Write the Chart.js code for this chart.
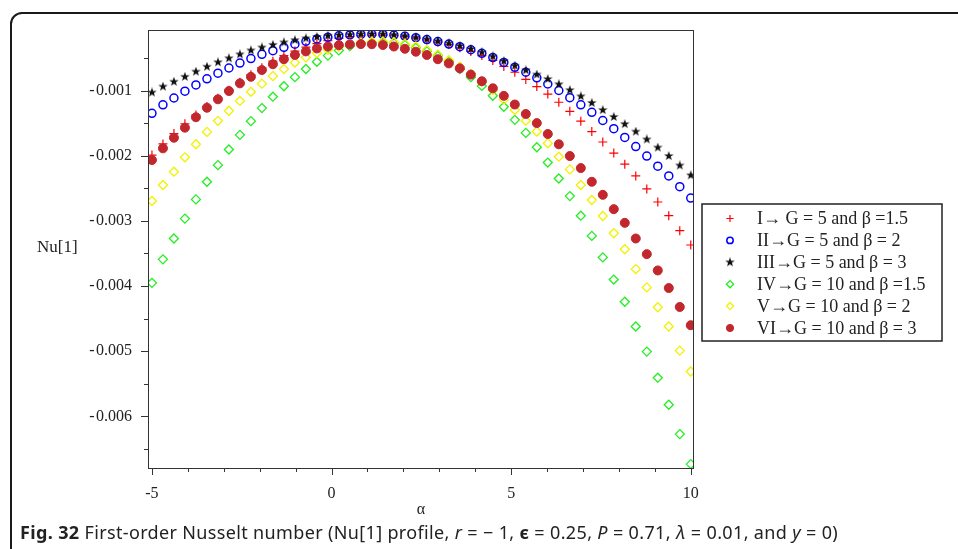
<!DOCTYPE html>
<html>
<head>
<meta charset="utf-8">
<script src="https://cdn.jsdelivr.net/npm/chart.js@4.4.1/dist/chart.umd.min.js"></script>
<style>
    html, body { margin: 0; padding: 0; background: #fff; overflow: hidden; }
    #wrap { position: relative; width: 958px; height: 549px; overflow: hidden; }
    #frame { position: absolute; left: 10px; top: 12px; width: 1000px; height: 600px;
             border: 2px solid #1a1a1a; border-radius: 12px; box-sizing: border-box; }
    #chartjs { position: absolute; left: 0; top: 0; }
    #caption { position: absolute; left: 20px; top: 520px; font-family: "Noto Sans"; font-size: 18px;
               letter-spacing: 0.35px; color: #222; white-space: nowrap; }
</style>
</head>
<body>
<div id="wrap">
    <div id="frame"></div>
    <canvas id="chartjs" width="958" height="549"></canvas>
    <div id="caption"><b>Fig. 32</b> First-order Nusselt number (Nu[1] profile, <i>r</i> = − 1, <b>ϵ</b> = 0.25, <i>P</i> = 0.71, <i>λ</i> = 0.01, and <i>y</i> = 0)</div>
</div>
<script>
// sample points of alpha (50 points from -5 to 10)
const alpha = [-5, -4.694, -4.388, -4.082, -3.776, -3.469, -3.163, -2.857, -2.551, -2.245,
    -1.939, -1.633, -1.327, -1.02, -0.714, -0.408, -0.102, 0.204, 0.51, 0.816,
    1.122, 1.429, 1.735, 2.041, 2.347, 2.653, 2.959, 3.265, 3.571, 3.878,
    4.184, 4.49, 4.796, 5.102, 5.408, 5.714, 6.02, 6.327, 6.633, 6.939,
    7.245, 7.551, 7.857, 8.163, 8.469, 8.776, 9.082, 9.388, 9.694, 10]

// Nu[1] for each case
const nuI = [-0.00199, -0.00182, -0.00166, -0.00151, -0.001375, -0.001245, -0.00112, -0.000995, -0.000875, -0.00076,
    -0.00065, -0.00055, -0.000465, -0.000395, -0.000335, -0.000282, -0.000237, -0.0002, -0.000175, -0.00016,
    -0.000152, -0.000152, -0.00016, -0.000175, -0.000197, -0.000225, -0.000258, -0.000295, -0.000345, -0.0004,
    -0.000465, -0.00054, -0.00063, -0.00072, -0.00083, -0.00094, -0.001055, -0.00118, -0.00132, -0.00147,
    -0.00163, -0.00179, -0.00196, -0.00213, -0.00231, -0.00251, -0.00271, -0.00292, -0.00315, -0.00337]
const nuII = [-0.00135, -0.00122, -0.001115, -0.00101, -0.000915, -0.00082, -0.000735, -0.000655, -0.00058, -0.00051,
    -0.000445, -0.00039, -0.000337, -0.00029, -0.000245, -0.00021, -0.000184, -0.000162, -0.000148, -0.00014,
    -0.000137, -0.00014, -0.00015, -0.000167, -0.00019, -0.000218, -0.00025, -0.000287, -0.000328, -0.000375,
    -0.00043, -0.000495, -0.00057, -0.000645, -0.00072, -0.000805, -0.0009, -0.001, -0.00111, -0.00122,
    -0.001335, -0.00146, -0.001585, -0.00172, -0.00186, -0.002005, -0.00216, -0.00231, -0.002475, -0.00265]
const nuIII = [-0.00103, -0.00094, -0.000865, -0.00079, -0.00071, -0.000635, -0.000567, -0.000506, -0.000445, -0.000385,
    -0.00034, -0.0003, -0.000262, -0.000228, -0.0002, -0.000178, -0.00016, -0.00015, -0.000142, -0.000136,
    -0.000133, -0.000136, -0.000145, -0.000162, -0.000185, -0.000212, -0.000242, -0.000276, -0.000315, -0.000362,
    -0.000414, -0.000478, -0.00055, -0.00062, -0.00069, -0.000755, -0.000825, -0.000905, -0.000995, -0.00109,
    -0.00119, -0.0013, -0.001405, -0.001515, -0.00163, -0.00175, -0.001875, -0.002005, -0.00215, -0.0023]
const nuIV = [-0.00395, -0.00359, -0.00327, -0.002965, -0.00267, -0.0024, -0.002145, -0.001905, -0.00168, -0.00147,
    -0.00127, -0.001095, -0.000935, -0.000795, -0.00067, -0.00056, -0.000465, -0.000385, -0.00032, -0.000278,
    -0.000258, -0.000255, -0.000268, -0.000298, -0.000343, -0.000397, -0.000467, -0.00056, -0.00067, -0.000795,
    -0.00093, -0.00108, -0.00125, -0.00145, -0.00165, -0.00187, -0.002105, -0.00235, -0.00262, -0.00292,
    -0.00323, -0.00356, -0.0039, -0.00424, -0.00462, -0.005005, -0.005405, -0.00582, -0.00627, -0.00673]
const nuV = [-0.002695, -0.00245, -0.002245, -0.002025, -0.001825, -0.001635, -0.001465, -0.00131, -0.00116, -0.00102,
    -0.000895, -0.00078, -0.000672, -0.00057, -0.000493, -0.000425, -0.000375, -0.000325, -0.00029, -0.000265,
    -0.000252, -0.00025, -0.00026, -0.000285, -0.000325, -0.00038, -0.00045, -0.000535, -0.000635, -0.000745,
    -0.000865, -0.000995, -0.00114, -0.0013, -0.001463, -0.00163, -0.00181, -0.002015, -0.00221, -0.00245,
    -0.00268, -0.002925, -0.00319, -0.003435, -0.00374, -0.00402, -0.004325, -0.00462, -0.00499, -0.00531]
const nuVI = [-0.002066, -0.001887, -0.001724, -0.00157, -0.00141, -0.001264, -0.001135, -0.001008, -0.00089, -0.00079,
    -0.000686, -0.000597, -0.00052, -0.000455, -0.0004, -0.000355, -0.000325, -0.000305, -0.000293, -0.000288,
    -0.00029, -0.000302, -0.000325, -0.00036, -0.000405, -0.000455, -0.00052, -0.000584, -0.00066, -0.000756,
    -0.000858, -0.000966, -0.001082, -0.001215, -0.00136, -0.0015, -0.001667, -0.001825, -0.002005, -0.00219,
    -0.0024, -0.0026, -0.00282, -0.00303, -0.00327, -0.00351, -0.00376, -0.00403, -0.00432, -0.0046]

const labels = ["I\u2192 G = 5 and \u03b2 =1.5", "II\u2192G = 5 and \u03b2 = 2", "III\u2192G = 5 and \u03b2 = 3",
    "IV\u2192G = 10 and \u03b2 =1.5", "V\u2192G = 10 and \u03b2 = 2", "VI\u2192G = 10 and \u03b2 = 3"]

// little 5 point star for case III
function starImage(size) {
    const c = document.createElement("canvas")
    c.width = size
    c.height = size
    const g = c.getContext("2d")
    const r = size / 2, ri = r * 0.4
    g.beginPath()
    for (let i = 0; i < 10; i++) {
        const a = -Math.PI / 2 + i * Math.PI / 5
        const rr = i % 2 === 0 ? r : ri
        g.lineTo(r + rr * Math.cos(a), r + rr * Math.sin(a))
    }
    g.closePath()
    g.fillStyle = "#111"
    g.fill()
    return c
}

const pts = arr => alpha.map((a, i) => ({ x: a, y: arr[i] }))

const serif = "'Liberation Serif', 'Times New Roman', serif"

const frameAndLegend = {
    id: "frameAndLegend",
    afterDraw(chart) {
        const { ctx, chartArea: a, scales: { x, y } } = chart
        ctx.save()
        ctx.strokeStyle = "#333"
        ctx.lineWidth = 1
        ctx.strokeRect(a.left + 0.5, a.top + 0.5, a.right - a.left - 1, a.bottom - a.top)
        ctx.beginPath()
        x.ticks.forEach(t => {
            const px = Math.round(x.getPixelForValue(t.value)) + 0.5
            const len = Math.round(t.value) % 5 === 0 ? 7 : 4
            ctx.moveTo(px, a.bottom)
            ctx.lineTo(px, a.bottom + len)
        })
        y.ticks.forEach(t => {
            const py = Math.round(y.getPixelForValue(t.value)) + 0.5
            const len = Math.round(-t.value * 1e4) % 10 === 0 ? 7 : 4
            ctx.moveTo(a.left, py)
            ctx.lineTo(a.left - len, py)
        })
        ctx.stroke()

        ctx.fillStyle = "#222"
        ctx.font = "17px " + serif
        ctx.textBaseline = "middle"
        ctx.textAlign = "left"
        ctx.fillText("Nu[1]", 37, 248)

        // legend box
        const bx = 702, by = 204, bw = 240, bh = 137
        ctx.lineWidth = 1.5
        ctx.strokeStyle = "#222"
        ctx.strokeRect(bx, by, bw, bh)
        ctx.font = "18px " + serif
        chart.data.datasets.forEach((ds, i) => {
            const ry = 218.5 + i * 21.9
            ctx.fillStyle = ds.backgroundColor
            ctx.strokeStyle = ds.borderColor
            ctx.lineWidth = ds.borderWidth
            Chart.helpers.drawPoint(ctx, {
                pointStyle: ds.pointStyle, radius: ds.pointRadius * 0.8,
                rotation: 0, borderWidth: ds.borderWidth
            }, 730, ry)
            ctx.fillStyle = "#222"
            ctx.fillText(ds.label, 757, ry + 1)
        })
        ctx.restore()
    }
}

window.addEventListener("load", () => {
    const ctx = document.getElementById("chartjs")
    const myChart = new Chart(ctx, {
        type: "scatter",
        data: {
            datasets: [
                { label: labels[0], data: pts(nuI), pointStyle: "cross", pointRadius: 4.5,
                  borderColor: "#ff0000", backgroundColor: "#ff0000", borderWidth: 1.2, order: 6 },
                { label: labels[1], data: pts(nuII), pointStyle: "circle", pointRadius: 4,
                  borderColor: "#0000ff", backgroundColor: "rgba(0,0,0,0)", borderWidth: 1.5, order: 5 },
                { label: labels[2], data: pts(nuIII), pointStyle: starImage(10), pointRadius: 5,
                  borderColor: "#000", backgroundColor: "#000", borderWidth: 1, order: 4 },
                { label: labels[3], data: pts(nuIV), pointStyle: "rectRot", pointRadius: 4.5,
                  borderColor: "#22ee22", backgroundColor: "rgba(0,0,0,0)", borderWidth: 1.3, order: 3 },
                { label: labels[4], data: pts(nuV), pointStyle: "rectRot", pointRadius: 4.5,
                  borderColor: "#f2f200", backgroundColor: "rgba(0,0,0,0)", borderWidth: 1.3, order: 2 },
                { label: labels[5], data: pts(nuVI), pointStyle: "circle", pointRadius: 4.5,
                  borderColor: "#c1272d", backgroundColor: "#c1272d", borderWidth: 1, order: 1 }
            ]
        },
        options: {
            responsive: false,
            animation: false,
            layout: { padding: { top: 30, right: 264, bottom: 0, left: 0 } },
            plugins: { legend: { display: false }, tooltip: { enabled: false } },
            elements: { point: { hoverRadius: 4 } },
            datasets: { scatter: { clip: 0 } },
            scales: {
                x: {
                    type: "linear",
                    min: -5.11,
                    max: 10.09,
                    afterFit: s => { s.height = 81 },
                    grid: { display: false },
                    border: { display: false },
                    ticks: {
                        stepSize: 1,
                        includeBounds: false,
                        autoSkip: false,
                        maxRotation: 0,
                        padding: 8,
                        color: "#222",
                        font: { family: serif, size: 16 },
                        callback: v => (Math.round(v) % 5 === 0 ? String(Math.round(v)) : "")
                    },
                    title: {
                        display: true,
                        text: "\u03b1",
                        color: "#222",
                        font: { family: serif, size: 16 },
                        padding: { top: 0, bottom: 30 }
                    }
                },
                y: {
                    type: "linear",
                    min: -0.00679,
                    max: -0.000072,
                    afterFit: s => { s.width = 148 },
                    grid: { display: false },
                    border: { display: false },
                    ticks: {
                        stepSize: 0.0005,
                        includeBounds: false,
                        autoSkip: false,
                        padding: 8,
                        color: "#222",
                        font: { family: serif, size: 16 },
                        callback: v => {
                            const n = Math.round(-v * 1e4)
                            return n > 0 && n % 10 === 0 ? "-\u200a0.00" + (n / 10) : ""
                        }
                    }
                }
            }
        },
        plugins: [frameAndLegend]
    })
})
</script>
</body>
</html>
